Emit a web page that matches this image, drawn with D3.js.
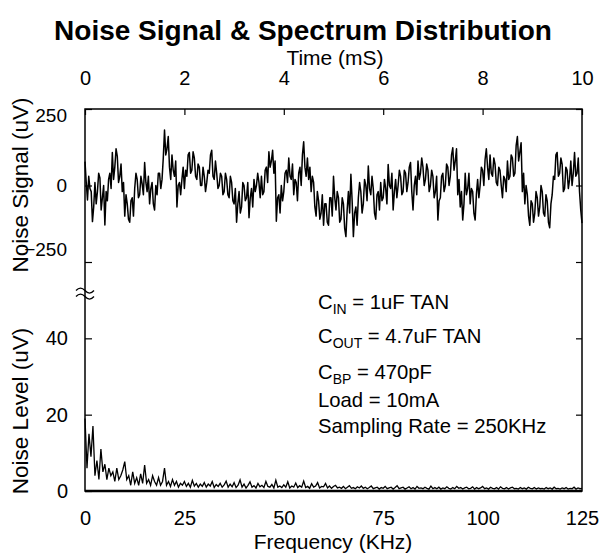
<!DOCTYPE html>
<html>
<head>
<meta charset="utf-8">
<script src="https://cdn.jsdelivr.net/npm/d3@7"></script>
<style>
  body { margin: 0; background: #fff; }
  text { font-family: "Liberation Sans", Arial, sans-serif; fill: #000; }
</style>
</head>
<body>
<div id="viz"></div>
<script>
// noise signal, uV, one sample every 0.025 mS (0..10 mS)
var timeStep = 0.025;
var noiseSignal = [
  78, 10, -47, 30, -10, -20, -118, -70, 10, -60, -20, 40, 25, -80, -40, 0, -129, -20, -50, 20,
  40, -10, 108, 20, 60, 120, 95, 10, 30, 70, -20, 10, -100, -30, -60, -110, -120, -50, -40, -100,
  -10, 40, 20, -40, -30, 30, 5, -30, 75, 10, -20, 30, -60, -10, 10, -60, -80, 0, -30, 40,
  40, -10, 20, 90, 181, 100, 120, 160, 60, 20, 100, 50, 30, 80, -70, 0, 10, -30, 20, 60,
  -10, 50, 30, 100, 108, 40, 50, 110, 90, 30, 20, 70, 60, 0, 0, 60, 30, -20, 10, 50,
  40, 100, 115, 30, 20, 80, 40, -10, 0, 40, 30, -30, -20, 40, 20, -30, -40, 30, 10, -50,
  -60, -10, -120, -60, -20, -90, -70, 10, 0, -50, -40, 10, -105, -40, -10, -70, 20, -20, 0, 40,
  10, -40, 30, -30, -20, 50, 60, 10, 110, 60, 80, 115, 40, 80, -117, -40, -30, -90, 0, -50,
  -20, 40, 50, 10, 90, 30, 20, 70, -30, 20, 10, -50, 40, 60, 0, 100, 143, 60, 30, 90,
  20, 60, -20, 30, 10, -70, -100, -20, -50, -110, -90, -30, -130, -60, -60, -120, -130, -40, -40, -100,
  30, -40, -80, -20, -40, -120, -110, -40, -60, -140, -167, -80, -20, -90, 37, -50, -167, -90, -70, -130,
  -40, 10, -20, -90, -60, 20, 0, -50, 64, -10, -30, 30, -10, -90, -110, -30, -20, -80, 10, -50,
  -40, 20, -10, -60, 69, 0, -10, 40, -80, -20, 20, -40, 0, 50, 30, -30, -20, 50, 40, -20,
  10, 60, 75, -20, -80, 0, 30, -30, 80, 20, 40, 90, 60, 0, 20, 70, 50, -20, 0, 50,
  30, -40, -20, 30, -113, -50, -40, 30, 40, -20, 0, 70, 60, 0, 30, 100, 123, 50, 80, 120,
  -30, 20, -70, -20, -113, -60, 40, -30, -10, 40, -60, -10, -20, -90, -113, -30, 20, -40, 0, 60,
  50, 0, 85, 120, 60, 20, 100, 40, 30, 90, 70, 10, 0, 60, 50, 0, -40, 30, 20, -20,
  80, 20, 30, 100, 90, 30, 40, 130, 160, 80, 110, 140, -20, 40, -60, 0, -30, -100, -130, -50,
  -60, -120, -90, -20, -40, -100, -70, 0, -20, -90, -100, -30, -50, -120, -138, -60, -30, 30, 20, 100,
  108, 30, 40, 90, 70, -20, -10, 60, 50, -10, 20, 80, 0, 40, 108, 30, 40, 90, -20, -80,
  -123
];

// noise spectrum, uV, one bin every 0.5 KHz (0..125 KHz)
var freqStep = 0.5;
var noiseLevel = [
  19, 6, 15, 9, 17, 4, 8, 3, 11, 5,
  7, 3, 6, 4, 5, 2.5, 6, 3, 4, 5.5,
  7.7, 3, 4, 1.5, 5, 2, 3.5, 1.5, 4.5, 2,
  6.8, 2, 3, 1.5, 4, 2.5, 1.5, 3.5, 1.5, 2.5,
  6, 1.5, 2.5, 1.2, 3, 1.5, 2.5, 1, 2, 1.5,
  2.5, 1.2, 2, 1, 2.8, 1.3, 2, 1, 1.8, 1.2,
  2.2, 1, 1.8, 1.3, 2.5, 0.9, 1.7, 1.2, 2, 1,
  1.6, 2.6, 1, 1.8, 1.1, 2.2, 0.9, 1.5, 2.9, 1,
  1.8, 0.8, 1.5, 2.4, 1, 1.4, 0.8, 2, 1.1, 1.5,
  0.9, 2.5, 1.2, 1, 1.7, 0.8, 2.8, 1, 1.3, 0.9,
  1.6, 1, 2.4, 0.8, 1.3, 1, 2.1, 0.9, 1.4, 1,
  2.6, 0.9, 1.2, 0.7, 1.9, 1, 1.3, 2.2, 0.8, 1.2,
  1.1, 2, 0.8, 1.3, 0.7, 1.2, 1.5, 0.8, 1, 0.7,
  1.2, 0.6, 1, 1.4, 0.7, 0.9, 0.6, 1.1, 0.8, 1.3,
  0.7, 1, 0.6, 0.9, 1.3, 0.6, 0.8, 1, 0.5, 0.9,
  0.7, 1.2, 0.6, 0.8, 1, 0.5, 0.9, 1.4, 0.6, 0.8,
  1, 0.5, 0.8, 1.1, 0.6, 0.9, 0.5, 1.2, 0.7, 0.8,
  0.6, 1, 0.7, 0.5, 1.3, 0.6, 0.9, 0.6, 1, 0.5,
  0.8, 0.6, 1.1, 0.7, 0.5, 0.9, 0.6, 1.2, 0.7, 0.9,
  0.5, 0.8, 1, 0.6, 0.7, 1.1, 0.5, 0.9, 0.6, 0.8,
  1.2, 0.6, 0.8, 0.5, 1, 0.7, 0.6, 0.9, 0.5, 1.1,
  0.7, 0.6, 0.9, 0.5, 0.8, 1, 0.6, 0.7, 0.5, 0.9,
  0.6, 0.8, 0.5, 1, 0.7, 0.6, 0.9, 0.5, 0.8, 0.6,
  0.7, 0.5, 0.9, 0.6, 0.8, 0.5, 1, 0.6, 0.7, 0.5,
  0.8, 0.6, 0.9, 0.5, 0.7, 0.6, 1, 0.5, 0.8, 0.6,
  0.7
];

var timeTicks = [0, 2, 4, 6, 8, 10];
var freqTicks = [0, 25, 50, 75, 100, 125];
var signalTicks = [-250, 0, 250];
var levelTicks = [0, 20, 40];

var notes = [
  ["C", "IN", " = 1uF TAN"],
  ["C", "OUT", " = 4.7uF TAN"],
  ["C", "BP", " = 470pF"],
  ["Load = 10mA", "", ""],
  ["Sampling Rate = 250KHz", "", ""]
];

// set the dimensions of the plot box
var W = 604, H = 558;
var box = {left: 85, right: 582, top: 109, split: 262, bottom: 491};

var svg = d3.select("#viz")
  .append("svg")
  .attr("width", W)
  .attr("height", H);

// scales
var xTime = d3.scaleLinear().domain([0, 10]).range([box.left, box.right]);
var xFreq = d3.scaleLinear().domain([0, 125]).range([box.left, box.right]);
var ySig = d3.scaleLinear().domain([-250, 250]).range([box.split, box.top]);
var yLev = d3.scaleLinear().domain([0, 60]).range([box.bottom, box.split]);

// traces
svg.append("path").datum(noiseSignal)
  .attr("fill", "none")
  .attr("stroke", "#000")
  .attr("stroke-width", 1.5)
  .attr("stroke-linejoin", "round")
  .attr("d", d3.line()
    .x(function(d, i) { return xTime(i * timeStep); })
    .y(function(d) { return ySig(d); }));

svg.append("path").datum(noiseLevel)
  .attr("fill", "none")
  .attr("stroke", "#000")
  .attr("stroke-width", 1.3)
  .attr("d", d3.line()
    .x(function(d, i) { return xFreq(i * freqStep); })
    .y(function(d) { return yLev(d); }));

// frame
svg.append("rect")
  .attr("x", box.left).attr("y", box.top)
  .attr("width", box.right - box.left).attr("height", box.bottom - box.top)
  .attr("fill", "none").attr("stroke", "#000").attr("stroke-width", 1.5);
svg.append("line")
  .attr("x1", box.left).attr("x2", box.right)
  .attr("y1", box.bottom).attr("y2", box.bottom)
  .attr("stroke", "#000").attr("stroke-width", 2.5);

function styleAxis(g, size) {
  g.select(".domain").remove();
  g.selectAll(".tick line").attr("stroke", "#000").attr("stroke-width", 1.2);
  g.selectAll(".tick text").attr("font-size", size).attr("fill", "#000")
    .attr("font-family", "Liberation Sans, Arial, sans-serif");
}

// top axis (time)
svg.append("g")
  .attr("transform", "translate(0," + box.top + ")")
  .call(d3.axisTop(xTime).tickValues(timeTicks).tickSize(-6).tickPadding(24))
  .call(styleAxis, 20);

// bottom axis (frequency), no visible ticks
svg.append("g")
  .attr("transform", "translate(0," + box.bottom + ")")
  .call(d3.axisBottom(xFreq).tickValues(freqTicks).tickSize(0).tickPadding(20))
  .call(styleAxis, 20);

// left axes
svg.append("g")
  .attr("transform", "translate(" + box.left + ",0)")
  .call(d3.axisLeft(ySig).tickValues(signalTicks).tickSize(-7).tickPadding(18))
  .call(styleAxis, 19)
  .selectAll(".tick text")
  .attr("dy", function(d) { return d === 250 ? "0.64em" : (d === -250 ? "-0.36em" : "0.32em"); });
svg.append("g")
  .attr("transform", "translate(" + box.left + ",0)")
  .call(d3.axisLeft(yLev).tickValues(levelTicks).tickSize(-7).tickPadding(17))
  .call(styleAxis, 20);

// right axes, ticks only
svg.append("g")
  .attr("transform", "translate(" + box.right + ",0)")
  .call(d3.axisRight(ySig).tickValues(signalTicks).tickSize(-6).tickFormat(""))
  .call(styleAxis, 18);
svg.append("g")
  .attr("transform", "translate(" + box.right + ",0)")
  .call(d3.axisRight(yLev).tickValues([20, 40]).tickSize(-6).tickFormat(""))
  .call(styleAxis, 18);

// axis break mark on the left axis
var by = yLev(52);
[-3, 3].forEach(function(o) {
  svg.append("path")
    .attr("d", "M" + (box.left - 9) + "," + (by + o + 1) +
      " q4.5,-5 9,0 t9,0")
    .attr("fill", "none").attr("stroke", "#000").attr("stroke-width", 1.3);
});

// titles
svg.append("text")
  .attr("x", 303).attr("y", 40)
  .attr("text-anchor", "middle")
  .attr("font-size", 28).attr("font-weight", "bold")
  .text("Noise Signal & Spectrum Distribution");

svg.append("text")
  .attr("x", 335).attr("y", 65)
  .attr("text-anchor", "middle")
  .attr("font-size", 21)
  .text("Time (mS)");

svg.append("text")
  .attr("x", 333).attr("y", 549)
  .attr("text-anchor", "middle")
  .attr("font-size", 21)
  .text("Frequency (KHz)");

svg.append("text")
  .attr("transform", "translate(28," + 185 + ") rotate(-90)")
  .attr("text-anchor", "middle")
  .attr("font-size", 22.5)
  .text("Noise Signal (uV)");

svg.append("text")
  .attr("transform", "translate(28," + 411 + ") rotate(-90)")
  .attr("text-anchor", "middle")
  .attr("font-size", 22.5)
  .text("Noise Level (uV)");

// test conditions
var noteY = [309, 343, 379, 407, 433];
notes.forEach(function(n, i) {
  var t = svg.append("text")
    .attr("x", 318).attr("y", noteY[i])
    .attr("font-size", 20.3);
  t.append("tspan").text(n[0]);
  if (n[1]) {
    t.append("tspan").attr("dy", 5).attr("font-size", 14).text(n[1]);
    t.append("tspan").attr("dy", -5).text(n[2]);
  }
});
</script>
</body>
</html>
